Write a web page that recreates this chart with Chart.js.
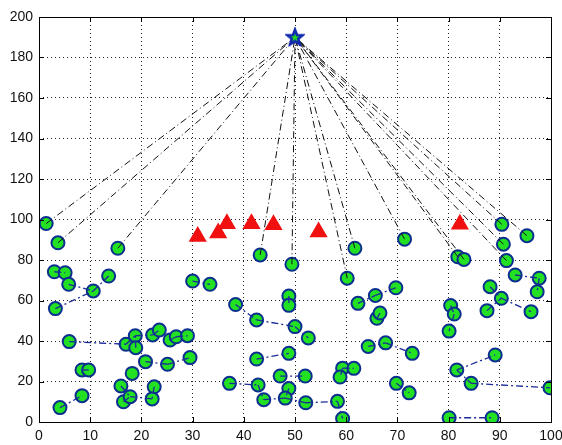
<!DOCTYPE html>
<html>
<head>
<meta charset="utf-8">
<script src="https://cdn.jsdelivr.net/npm/chart.js@4.4.1/dist/chart.umd.min.js"></script>
<style>
  html, body { margin: 0; padding: 0; background: #fff; }
</style>
</head>
<body>
<canvas id="chart" width="562" height="445"></canvas>
<script>
// sensor nodes (green circles)
const nodeX = [1.4, 3.7, 15.4, 3.0, 5.1, 5.8, 10.6, 13.6, 3.2, 30.0,
  33.4, 43.2, 49.4, 61.7, 60.2, 38.4, 48.8, 48.8, 62.3, 65.7,
  71.4, 90.4, 95.3, 90.7, 81.8, 83.0, 91.3, 93.0, 97.7, 97.3,
  88.1, 90.3, 96.1, 69.7, 80.4, 87.5, 5.9, 8.4, 9.7, 4.1,
  8.4, 17.0, 18.8, 18.9, 22.2, 23.5, 25.6, 26.8, 29.0, 29.5,
  20.8, 25.1, 18.2, 16.0, 22.5, 16.5, 17.8, 22.1, 42.5, 50.0,
  52.6, 66.0, 66.6, 64.3, 67.7, 42.5, 48.8, 47.1, 52.0, 37.2,
  42.8, 48.8, 43.9, 48.1, 52.1, 58.3, 59.3, 59.3, 58.8, 61.5,
  81.1, 80.1, 72.9, 89.1, 81.6, 84.4, 99.8, 69.8, 72.3, 80.1, 88.5];
const nodeY = [98.0, 88.5, 85.8, 74.2, 73.7, 68.0, 64.7, 72.1, 56.0, 69.6,
  68.0, 82.5, 77.9, 85.8, 71.0, 58.0, 62.2, 57.6, 58.6, 62.5,
  90.3, 97.6, 92.0, 87.8, 81.6, 80.3, 79.7, 72.6, 71.0, 64.3,
  66.8, 61.1, 54.5, 66.3, 57.5, 55.0, 39.7, 25.7, 25.7, 7.1,
  13.0, 38.4, 42.6, 36.7, 43.0, 45.4, 40.5, 42.1, 42.6, 31.8,
  29.8, 28.5, 24.0, 17.8, 17.4, 10.0, 12.5, 11.4, 50.4, 47.1,
  41.5, 51.2, 53.8, 37.3, 39.1, 31.1, 33.9, 22.7, 22.7, 19.1,
  18.3, 16.5, 11.0, 11.8, 9.5, 10.2, 1.7, 26.6, 22.2, 26.5,
  53.3, 44.9, 33.9, 33.1, 25.7, 19.1, 16.9, 19.1, 14.4, 2.1, 2.1];

// cluster heads (red triangles)
const headX = [31.0, 35.0, 36.7, 41.5, 45.8, 54.6, 82.2];
const headY = [91.6, 93.3, 97.9, 97.9, 97.4, 93.8, 97.6];

// base station (star)
const sinkX = [50];
const sinkY = [190];

// nodes sending straight to the base station
const sinkLinks = [0, 1, 2, 11, 12, 13, 14, 20, 21, 22, 23, 24, 25, 26];

// node to node links
const linkFrom = [3, 5, 6, 8, 36, 37, 39, 41, 42, 44, 46, 47, 50, 51, 53, 55, 56, 54,
  9, 15, 58, 59, 65, 67, 69, 70, 72, 71, 73, 74, 75, 77, 77, 18, 19, 61,
  63, 64, 87, 89, 84, 84, 85, 34, 80, 30, 31, 27, 28, 35, 16, 43];
const linkTo = [4, 6, 7, 6, 41, 38, 40, 42, 44, 45, 47, 48, 51, 49, 56, 56, 57, 57,
  10, 58, 59, 60, 66, 68, 70, 72, 73, 73, 74, 75, 76, 78, 79, 19, 33, 62,
  64, 82, 88, 90, 83, 85, 86, 80, 81, 31, 32, 28, 29, 31, 17, 42];

const xTicks = [0, 10, 20, 30, 40, 50, 60, 70, 80, 90, 100];
const yTicks = [0, 20, 40, 60, 80, 100, 120, 140, 160, 180, 200];

// pentagram marker for the sink
function makeStar() {
  const c = document.createElement('canvas');
  c.width = 20; c.height = 20;
  const g = c.getContext('2d');
  g.beginPath();
  for (let i = 0; i < 10; i++) {
    const r = i % 2 ? 3.4 : 8;
    const a = -Math.PI / 2 + i * Math.PI / 5;
    g.lineTo(10 + r * Math.cos(a), 10.5 + r * Math.sin(a));
  }
  g.closePath();
  g.fillStyle = '#22d622';
  g.fill();
  g.lineWidth = 2.6;
  g.strokeStyle = '#1028b0';
  g.stroke();
  return c;
}

const pts = (xs, ys) => xs.map((x, i) => ({ x: x, y: ys[i] }));

const datasets = [];

sinkLinks.forEach(i => {
  datasets.push({
    type: 'line',
    data: [{ x: nodeX[i], y: nodeY[i] }, { x: sinkX[0], y: sinkY[0] }],
    borderColor: '#111',
    borderWidth: 1,
    borderDash: [7, 3, 1, 3],
    pointRadius: 0,
    fill: false,
    order: 1
  });
});

linkFrom.forEach((a, k) => {
  const b = linkTo[k];
  datasets.push({
    type: 'line',
    data: [{ x: nodeX[a], y: nodeY[a] }, { x: nodeX[b], y: nodeY[b] }],
    borderColor: '#1a2a9a',
    borderWidth: 1.3,
    borderDash: [7, 3, 2, 3],
    pointRadius: 0,
    fill: false,
    order: 1
  });
});

datasets.push({
  data: pts(nodeX, nodeY),
  pointStyle: 'circle',
  pointRadius: 6.5,
  borderWidth: 2,
  borderColor: '#0c2f8f',
  backgroundColor: '#22e022',
  order: 2
});

datasets.push({
  data: pts(headX, headY),
  pointStyle: 'triangle',
  pointRadius: 10.5,
  borderWidth: 0,
  backgroundColor: '#f01010',
  order: 2
});

datasets.push({
  data: pts(sinkX, sinkY),
  pointStyle: makeStar(),
  pointRadius: 9,
  order: 0
});

// box around the plot + inward tick marks
const boxPlugin = {
  id: 'box',
  afterDraw(chart) {
    const { ctx, chartArea: a, scales } = chart;
    ctx.save();
    ctx.strokeStyle = '#000';
    ctx.lineWidth = 1;
    ctx.beginPath();
    xTicks.forEach(v => {
      const px = Math.round(scales.x.getPixelForValue(v)) + 0.5;
      ctx.moveTo(px, a.bottom); ctx.lineTo(px, a.bottom - 5);
      ctx.moveTo(px, a.top); ctx.lineTo(px, a.top + 5);
    });
    yTicks.forEach(v => {
      const py = Math.round(scales.y.getPixelForValue(v)) + 0.5;
      ctx.moveTo(a.left, py); ctx.lineTo(a.left + 5, py);
      ctx.moveTo(a.right, py); ctx.lineTo(a.right - 5, py);
    });
    ctx.stroke();
    ctx.strokeRect(Math.round(a.left) + 0.5, Math.round(a.top) + 0.5,
      Math.round(a.right - a.left), Math.round(a.bottom - a.top));
    ctx.restore();
  }
};

const tickFont = { family: "'Liberation Sans', Arial, sans-serif", size: 14 };

new Chart(document.getElementById('chart'), {
  type: 'scatter',
  data: { datasets: datasets },
  options: {
    responsive: false,
    animation: false,
    devicePixelRatio: 1,
    events: [],
    layout: { padding: { top: 17, right: 11, left: 0, bottom: 0 } },
    plugins: { legend: { display: false }, tooltip: { enabled: false } },
    scales: {
      x: {
        type: 'linear',
        min: 0,
        max: 100,
        afterBuildTicks: s => { s.ticks = xTicks.map(v => ({ value: v })); },
        afterFit: s => { s.height = 23; s.paddingLeft = 0; s.paddingRight = 0; },
        grid: { color: '#222', lineWidth: 1, drawTicks: false },
        border: { display: false, dash: [1, 3] },
        ticks: { font: tickFont, color: '#111', padding: 6, maxRotation: 0, autoSkip: false }
      },
      y: {
        type: 'linear',
        min: 0,
        max: 200,
        afterBuildTicks: s => { s.ticks = yTicks.map(v => ({ value: v })); },
        afterFit: s => { s.width = 39; s.paddingTop = 0; s.paddingBottom = 0; },
        grid: { color: '#222', lineWidth: 1, drawTicks: false },
        border: { display: false, dash: [1, 3] },
        ticks: { font: tickFont, color: '#111', padding: 6, autoSkip: false }
      }
    }
  },
  plugins: [boxPlugin]
});
</script>
</body>
</html>
